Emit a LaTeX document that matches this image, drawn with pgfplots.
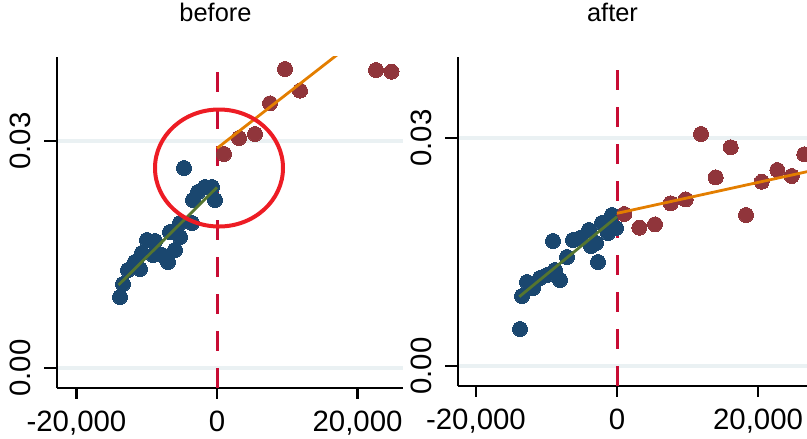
\documentclass[border=0pt]{standalone}
\usepackage{fontspec}
\setmainfont{Liberation Sans}
\usepackage{pgfplots}
\pgfplotsset{compat=1.18}
\definecolor{navy}{RGB}{26,71,111}
\definecolor{maroon}{RGB}{144,53,59}
\definecolor{fgreen}{RGB}{85,117,47}
\definecolor{dkorange}{RGB}{227,126,0}
\definecolor{xlinec}{RGB}{200,12,52}
\definecolor{gridc}{RGB}{234,241,243}
\definecolor{ellred}{RGB}{237,28,36}

\pgfplotsset{
 panel/.style={
  scale only axis,
  clip marker paths=true,
  axis x line*=bottom, axis y line*=left,
  axis line style={line width=2.7bp, black, -},
  tick align=outside,
  major tick length=12bp,
  xtick style={draw=none},
  ytick style={draw=none},
  xtick={-20000,0,20000},
  xticklabels={{-20,000},{0},{20,000}},
  ytick={0,0.03},
  yticklabels={{0.00},{0.03}},
  scaled x ticks=false, scaled y ticks=false,
  ymajorgrids, grid style={gridc, line width=4bp},
  tick label style={font=\fontsize{29.5}{30}\selectfont},
  yticklabel style={xshift=-14bp, rotate=90, anchor=south, inner sep=0pt},
  xticklabel style={anchor=north, inner sep=0pt, yshift=-11bp},
  title style={font=\fontsize{25.5}{26}\selectfont, anchor=base, inner sep=0pt},
  after end axis/.code={
   \foreach \t in {-20000,0,20000}
     \draw[black, line width=2.7bp] ({axis cs:\t,0} |- {rel axis cs:0,0}) -- ++(0,-11bp);
   \foreach \t in {0,0.03}
     \draw[black, line width=2.7bp] ({rel axis cs:0,0} |- {axis cs:0,\t}) -- ++(-13bp,0);
  },
 },
 bluemk/.style={only marks, mark=*, mark size=7.5bp, mark options={fill=navy, draw=navy, line width=0pt}},
 redmk/.style={only marks, mark=*, mark size=7.5bp, mark options={fill=maroon, draw=maroon, line width=0pt}},
 xl/.style={xlinec, line width=3bp, dash pattern=on 20bp off 17bp},
}

\begin{document}
\begin{tikzpicture}[x=1bp,y=1bp]
\useasboundingbox (0,0) rectangle (807bp,439bp);
\clip (0,0) rectangle (807bp,439bp);

% ---------------- before ----------------
\begin{axis}[panel,
  at={(57bp,51bp)}, anchor=south west, width=346bp, height=331bp,
  xmin=-22768, xmax=26468, ymin=-0.002643, ymax=0.0411,
  title=before, title style={at={(axis description cs:0.458,1)}, yshift=30bp}]
\addplot[xl] coordinates {(0,-0.002643) (0,0.0411)};
\addplot[bluemk] table {
x y
-13803 0.00938
-13376 0.01110
-12665 0.01295
-11669 0.01401
-10957 0.01308
-10673 0.01520
-9961 0.01692
-8823 0.01678
-9107 0.01493
-7827 0.01493
-6973 0.01401
-5977 0.01559
-6688 0.01797
-5265 0.01731
-5265 0.01916
-3558 0.01916
-3415 0.02220
-2704 0.02326
-1708 0.02392
-712 0.02392
-285 0.02220
-4696 0.02643
};
\addplot[redmk] table {
x y
996 0.02828
3131 0.03040
5407 0.03092
7542 0.03498
9676 0.03952
11811 0.03665
22626 0.03938
24832 0.03916
};
\addplot[fgreen, line width=2.8bp] coordinates {(-14017,0.01097) (0,0.02388)};
\addplot[dkorange, line width=2.8bp] coordinates {(0,0.02903) (24832,0.04698)};
\draw[ellred, line width=4bp] (axis cs:285,0.02643) ellipse [x radius=64bp, y radius=58.5bp];
\end{axis}

% ---------------- after ----------------
\begin{axis}[panel,
  at={(458bp,53bp)}, anchor=south west, width=372bp, height=329bp,
  xmin=-22546, xmax=30203, ymin=-0.00263, ymax=0.04066,
  title=after, title style={at={(axis description cs:0.4153,1)}, yshift=30bp}]
\addplot[xl] coordinates {(0,-0.00263) (0,0.04066)};
\addplot[bluemk] table {
x y
-13755 0.00487
-13471 0.00921
-12762 0.01105
-11911 0.01026
-10919 0.01158
-9926 0.01197
-8792 0.01263
-8083 0.01132
-7090 0.01434
-9075 0.01645
-6239 0.01658
-5247 0.01684
-3970 0.01790
-3687 0.01579
-2978 0.01618
-2694 0.01368
-2127 0.01882
-1276 0.01750
-709 0.01987
-142 0.01816
};
\addplot[redmk] table {
x y
1035 0.02000
3162 0.01820
5388 0.01864
7615 0.02141
9742 0.02193
11911 0.03053
13996 0.02483
16123 0.02878
18292 0.01987
20519 0.02425
22730 0.02579
24772 0.02500
26560 0.02786
};
\addplot[fgreen, line width=2.8bp] coordinates {(-13854,0.00912) (0,0.01964)};
\addplot[dkorange, line width=2.8bp] coordinates {(0,0.02009) (30000,0.02619)};
\end{axis}
\end{tikzpicture}
\end{document}
